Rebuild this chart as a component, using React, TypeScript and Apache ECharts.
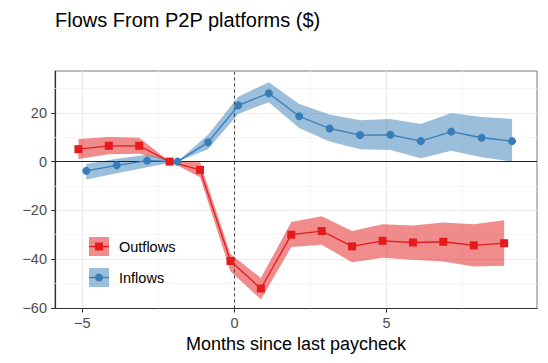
import React, { useEffect, useRef } from 'react';
import * as echarts from 'echarts';

const months = [-5, -4, -3, -2, -1, 0, 1, 2, 3, 4, 5, 6, 7, 8, 9];
const outflowMean = [5.1, 6.5, 6.5, 0, -3.4, -40.8, -52.1, -30.0, -28.5, -34.8, -32.5, -33.2, -32.9, -34.4, -33.5];
const outflowLow = [1.1, 3.0, 3.2, 0, -6.4, -45.0, -56.6, -35.1, -34.1, -41.3, -39.5, -40.3, -41.0, -43.1, -42.8];
const outflowHigh = [9.3, 10.1, 9.8, 0, -0.3, -37.9, -47.8, -24.8, -22.4, -28.5, -25.7, -26.2, -25.0, -25.7, -24.1];
const inflowMean = [-3.8, -1.5, 0.4, 0, 7.9, 23.1, 28.1, 18.6, 13.6, 10.9, 11.0, 8.4, 12.3, 9.8, 8.4];
const inflowLow = [-7.3, -4.8, -2.3, 0, 5.1, 19.7, 24.4, 13.8, 8.3, 5.1, 4.8, 1.4, 4.5, 1.8, 0.0];
const inflowHigh = [-1.0, 1.2, 2.8, 0, 11.0, 26.6, 32.6, 23.7, 19.3, 17.0, 17.5, 15.4, 20.0, 18.3, 17.5];

const xTicks = [-5, 0, 5];
const yTicks = [-60, -40, -20, 0, 20];
const xMinor = [-2.5, 2.5, 7.5];
const yMinor = [-50, -30, -10, 10, 30];

const DODGE = 0.13;
const RED = '#E41A1C';
const BLUE = '#377EB8';
const RED_BAND = 'rgba(228,26,28,0.5)';
const BLUE_BAND = 'rgba(55,126,184,0.5)';
const FONT = '"Liberation Sans", Arial, sans-serif';

const fmt = (v: number) => String(v).replace('-', '\u2212');

function bandSeries(name: string, offset: number, low: number[], high: number[], fill: string) {
  const data = months.map((m, i) => [m + offset, low[i], high[i]]);
  return {
    type: 'custom',
    name: name + ' band',
    silent: true,
    z: 1,
    encode: { x: 0, y: [1, 2] },
    data,
    renderItem: (params: any, api: any) => {
      if (params.dataIndex !== 0) return null;
      const top = data.map((d) => api.coord([d[0], d[2]]));
      const bottom = data.map((d) => api.coord([d[0], d[1]])).reverse();
      return {
        type: 'polygon',
        shape: { points: top.concat(bottom) },
        style: { fill },
      };
    },
  };
}

export default function App() {
  const ref = useRef<HTMLDivElement>(null);
  useEffect(() => {
    document.body.style.margin = '0';
    if (!ref.current) return;
    const chart = echarts.init(ref.current, null, { renderer: 'svg' });
    const option: any = {
      animation: false,
      textStyle: { fontFamily: FONT },
      title: {
        text: 'Flows From P2P platforms ($)',
        left: 55,
        top: 10,
        padding: 0,
        textStyle: { fontSize: 20, fontWeight: 'normal', color: '#000', fontFamily: FONT },
      },
      grid: {
        left: 55,
        right: 11,
        top: 71,
        bottom: 54.5,
        show: true,
        borderColor: '#7a7a7a',
        borderWidth: 1,
        backgroundColor: '#fff',
      },
      legend: {
        orient: 'vertical',
        left: 89,
        top: 237,
        padding: 0,
        itemWidth: 20,
        itemHeight: 19,
        itemGap: 12,
        selectedMode: false,
        textStyle: { fontSize: 14.5, color: '#000', fontFamily: FONT, padding: [0, 0, 0, 5] },
        data: [
          { name: 'Outflows', icon: 'rect', itemStyle: { color: RED_BAND, borderWidth: 0 } },
          { name: 'Inflows', icon: 'rect', itemStyle: { color: BLUE_BAND, borderWidth: 0 } },
        ],
      },
      xAxis: {
        type: 'value',
        min: -5.9,
        max: 9.95,
        name: 'Months since last paycheck',
        nameLocation: 'middle',
        nameGap: 25,
        nameTextStyle: { fontSize: 18, color: '#000', fontFamily: FONT },
        axisLine: { show: true, onZero: false, lineStyle: { color: '#333', width: 1.2 } },
        axisTick: { show: true, length: 4, customValues: xTicks, lineStyle: { color: '#333' } },
        axisLabel: {
          customValues: xTicks,
          formatter: fmt,
          fontSize: 14.5,
          color: '#4D4D4D',
          margin: 7,
          fontFamily: FONT,
        },
        splitLine: { show: true, lineStyle: { color: '#EBEBEB', width: 1.2 } },
      },
      yAxis: {
        type: 'value',
        min: -60.3,
        max: 37.2,
        axisLine: { show: true, onZero: false, lineStyle: { color: '#333', width: 1.2 } },
        axisTick: { show: true, length: 4, customValues: yTicks, lineStyle: { color: '#333' } },
        axisLabel: {
          customValues: yTicks,
          formatter: fmt,
          fontSize: 14.5,
          color: '#4D4D4D',
          margin: 8,
          fontFamily: FONT,
        },
        splitLine: { show: true, lineStyle: { color: '#EBEBEB', width: 1.2 } },
      },
      graphic: [
        { type: 'line', z: 100, shape: { x1: 89, y1: 246.5, x2: 109, y2: 246.5 }, style: { stroke: RED, lineWidth: 1.3 } },
        { type: 'rect', z: 101, shape: { x: 95, y: 242.5, width: 8, height: 8 }, style: { fill: RED } },
        { type: 'line', z: 100, shape: { x1: 89, y1: 277.5, x2: 109, y2: 277.5 }, style: { stroke: BLUE, lineWidth: 1.3 } },
        { type: 'circle', z: 101, shape: { cx: 99, cy: 277.5, r: 4 }, style: { fill: BLUE } },
      ],
      series: [
        {
          type: 'line',
          name: 'minor grid',
          data: [],
          silent: true,
          markLine: {
            silent: true,
            z: 0.5,
            symbol: 'none',
            label: { show: false },
            lineStyle: { color: '#F3F3F3', width: 0.8, type: 'solid' },
            data: [...xMinor.map((v) => ({ xAxis: v })), ...yMinor.map((v) => ({ yAxis: v }))],
          },
        },
        bandSeries('Outflows', -DODGE, outflowLow, outflowHigh, RED_BAND),
        bandSeries('Inflows', DODGE, inflowLow, inflowHigh, BLUE_BAND),
        {
          type: 'line',
          name: 'reference lines',
          data: [],
          silent: true,
          markLine: {
            silent: true,
            z: 1.5,
            symbol: 'none',
            label: { show: false },
            data: [
              { yAxis: 0, lineStyle: { color: '#222', width: 1.1, type: 'solid' } },
              { xAxis: 0, lineStyle: { color: '#444', width: 1.1, type: [3, 3] } },
            ],
          },
        },
        {
          type: 'line',
          name: 'Outflows',
          z: 3,
          data: months.map((m, i) => [m - DODGE, outflowMean[i]]),
          symbol: 'rect',
          symbolSize: 8,
          lineStyle: { color: RED, width: 1.3 },
          itemStyle: { color: RED },
        },
        {
          type: 'line',
          name: 'Inflows',
          z: 3,
          data: months.map((m, i) => [m + DODGE, inflowMean[i]]),
          symbol: 'circle',
          symbolSize: 8,
          lineStyle: { color: BLUE, width: 1.3 },
          itemStyle: { color: BLUE },
        },
      ],
    };
    chart.setOption(option);
    return () => chart.dispose();
  }, []);
  return <div ref={ref} style={{ width: 548, height: 363 }} />;
}
